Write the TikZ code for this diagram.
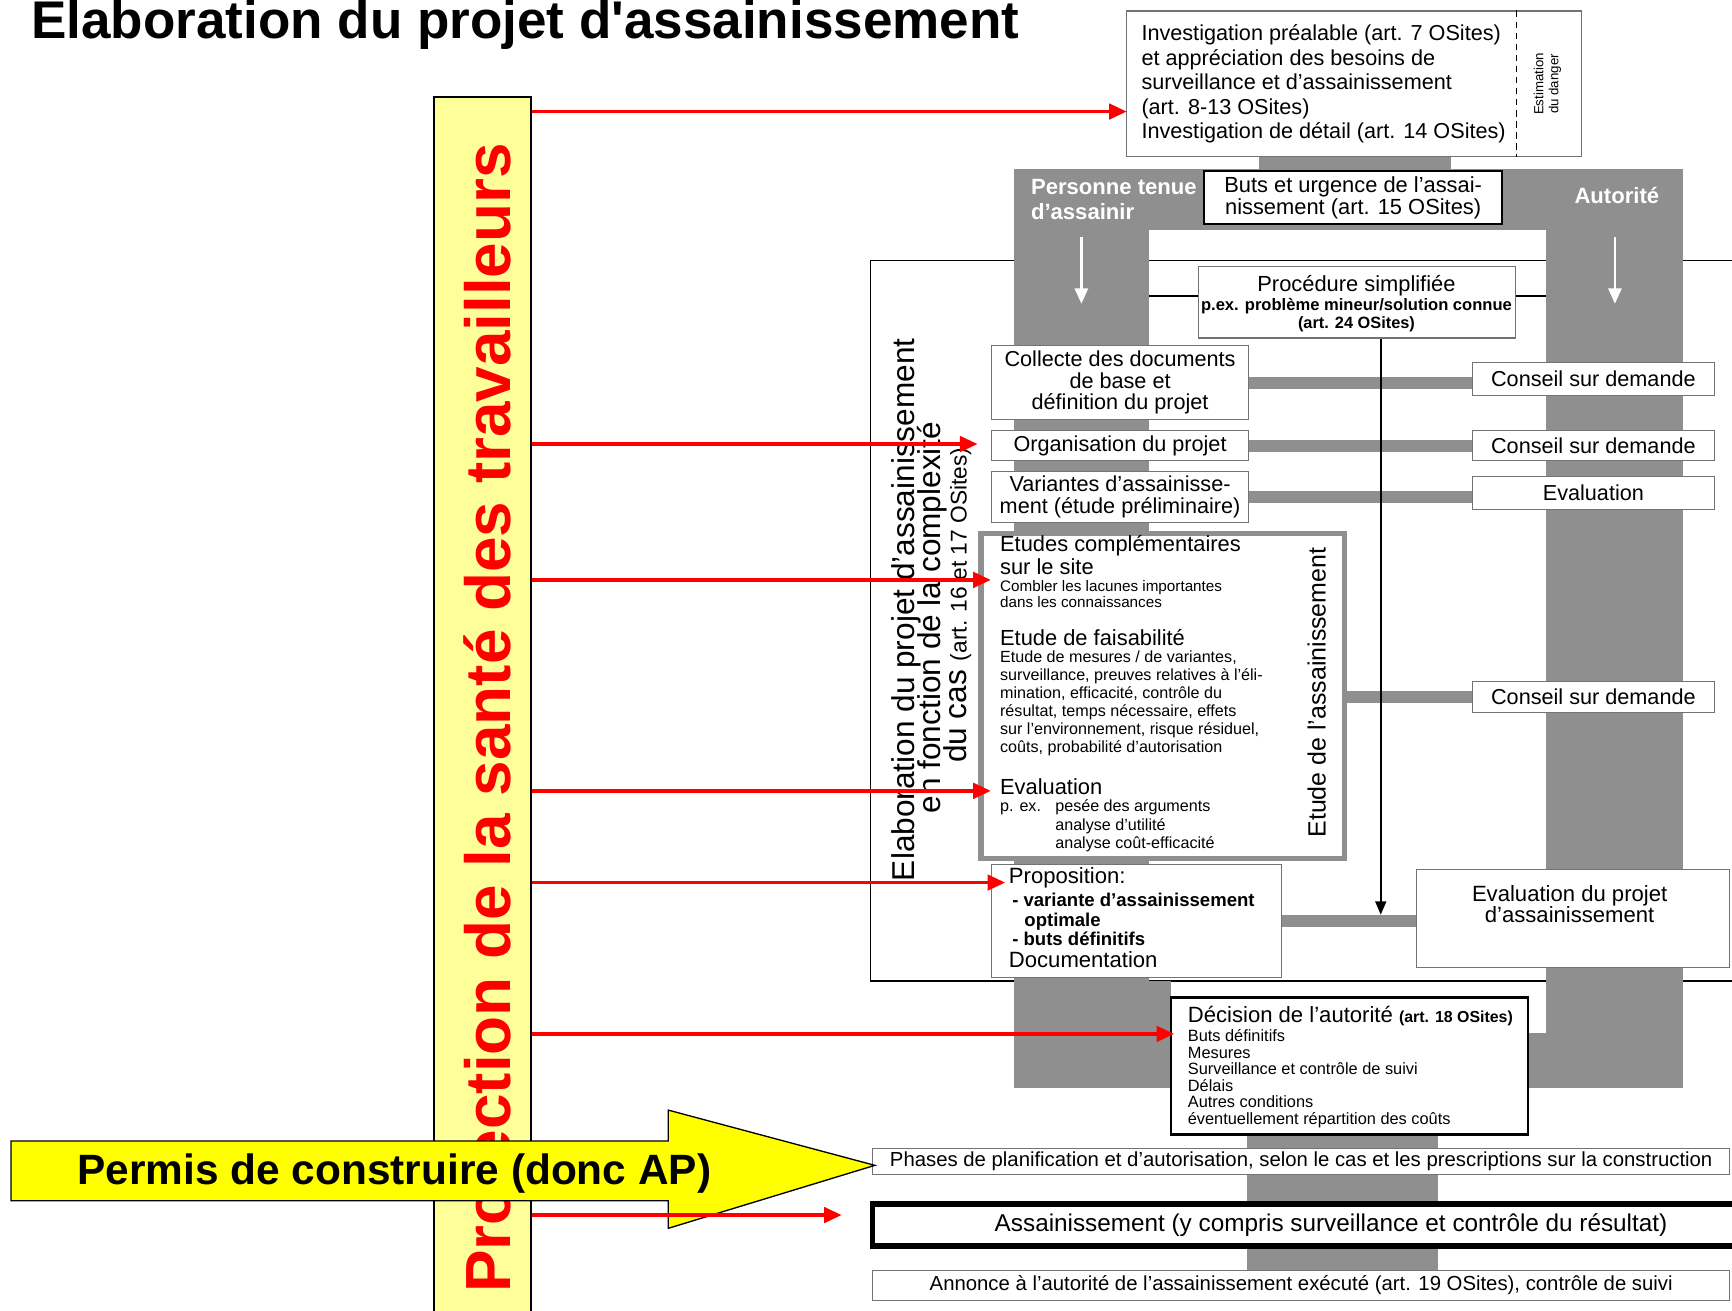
\documentclass[tikz,border=0pt]{standalone}
\usepackage{fontspec}
\setmainfont{Liberation Sans}
\newfontfamily\titlefont[Ligatures=TeXOff]{Liberation Sans}
\usetikzlibrary{fit,arrows.meta}
\pgfdeclarelayer{bg}
\pgfsetlayers{bg,main}
\definecolor{yband}{RGB}{255,255,153}
\definecolor{yarrow}{RGB}{255,255,0}
\definecolor{colgray}{RGB}{143,143,143}
\definecolor{boxline}{RGB}{115,115,115}
\newcommand\lft[1]{\vtop{\halign{##\hfil\cr#1\crcr}}}
\newcommand\ctr[1]{\vtop{\halign{\hfil##\hfil\cr#1\crcr}}}
\tikzset{
  box/.style={draw=boxline, fill=white, line width=0.5pt, inner sep=0pt},
  bbox/.style={draw=black, fill=white, line width=1pt, inner sep=0pt},
  txt/.style={inner sep=0pt},
  f10/.style={inner sep=0pt, font=\fontsize{9.8}{9.8}\selectfont},
  hdr/.style={inner sep=0pt, text=white, font=\bfseries\fontsize{10}{11.5}\selectfont},
  grayconn/.style={draw=colgray, line width=5.5pt},
  whitearr/.style={draw=white, line width=1pt, -{Triangle[length=7pt,width=6pt]}},
  blackarr/.style={draw=black, line width=0.7pt, -{Triangle[length=6pt,width=5pt]}},
  redarr/.style={draw=red, line width=1.6pt, -{Triangle[length=8pt,width=7pt]}},
  rottxt/.style={rotate=90, anchor=base, inner sep=0pt}
}
\begin{document}
\begin{tikzpicture}[x=0.5pt,y=-0.5pt]
\useasboundingbox (0,0) rectangle (1568,1186);
\clip (0,0) rectangle (1568,1186);

% title
\node[anchor=base west, txt, font=\titlefont\bfseries\fontsize{24}{28}\selectfont] (title) at (28,35) {Elaboration du projet d'assainissement};

% top box
\node[box, fit={(1020,10) (1432,142)}] (invest) {};
\coordinate (dashx) at (1373,0);
\draw[line width=0.6pt, dash pattern=on 3pt off 2pt] (invest.north -| dashx) -- (invest.south -| dashx);
\node[anchor=base west, txt, font=\fontsize{9.8}{11.1}\selectfont] (investtxt) at (1033,37) {\lft{Investigation préalable (art. 7 OSites)\cr et appréciation des besoins de\cr surveillance et d'assainissement\cr (art. 8-13 OSites)\cr Investigation de détail (art. 14 OSites)\cr}};
\node[rotate=90, txt, align=center, font=\fontsize{6}{6.8}\selectfont] (estim) at (1401,76) {Estimation\\du danger};

% header box
\node[bbox, fit={(1090,155) (1360,203)}] (buts) {};
\node[txt, align=center, font=\fontsize{9.9}{10}\selectfont] (butstxt) at (buts.center) {Buts et urgence de l'assai-\\nissement (art. 15 OSites)};
\node[anchor=base west, hdr] (pers) at (933,176) {\lft{Personne tenue\cr d'assainir\cr}};
\node[anchor=base west, hdr] (auto) at (1425,184) {Autorité};
\coordinate (wl1) at (979,215); \coordinate (wl2) at (979,275);
\coordinate (wr1) at (1462,215); \coordinate (wr2) at (1462,275);
\draw[whitearr] (wl1) -- (wl2);
\draw[whitearr] (wr1) -- (wr2);

% procedure simplifiee
\node[box, fit={(1085,241) (1372,306)}] (proc) {};
\node[anchor=base, txt, font=\fontsize{9.9}{10}\selectfont] (proct1) at (1228,264) {Procédure simplifiée};
\node[anchor=base, txt, font=\bfseries\fontsize{7.5}{8}\selectfont] (proct2) at (1228,281) {p.ex. problème mineur/solution connue};
\node[anchor=base, txt, font=\bfseries\fontsize{7.4}{8}\selectfont] (proct3) at (1228,297) {(art. 24 OSites)};

% left boxes
\node[box, fit={(898,313) (1130,380)}] (collecte) {};
\node[f10, align=center] (collectetxt) at (collecte.center) {Collecte des documents\\de base et\\définition du projet};
\node[box, fit={(898,390) (1130,417)}] (orga) {};
\node[f10] (orgatxt) at (orga.center) {Organisation du projet};
\node[box, fit={(898,427) (1130,473)}] (variantes) {};
\node[f10, align=center] (variantestxt) at (variantes.center) {Variantes d'assainisse-\\ment (étude préliminaire)};

% right boxes
\node[box, fit={(1333,328) (1552,358)}] (conseilA) {};
\node[f10] (conseilAtxt) at (conseilA.center) {Conseil sur demande};
\node[box, fit={(1333,390) (1552,417)}] (conseilB) {};
\node[f10] (conseilBtxt) at (conseilB.center) {Conseil sur demande};
\node[box, fit={(1333,431) (1552,461)}] (evalA) {};
\node[f10] (evalAtxt) at (evalA.center) {Evaluation};
\node[box, fit={(1333,617) (1552,645)}] (conseilC) {};
\node[f10] (conseilCtxt) at (conseilC.center) {Conseil sur demande};

% etude box
\node[draw=colgray, line width=2.5pt, fill=white, inner sep=0pt, fit={(888,483) (1217,777)}] (etude) {};
\node[anchor=base west, txt] (et1) at (905,499) {\vtop{\fontsize{9.9}{10.5}\selectfont\hbox{Etudes complémentaires}\hbox{sur le site}\fontsize{6.9}{7.6}\selectfont\hbox{Combler les lacunes importantes}\hbox{dans les connaissances}}};
\node[anchor=base west, txt] (et2) at (905,584) {\vtop{\fontsize{9.9}{10}\selectfont\hbox{Etude de faisabilité}\fontsize{7.3}{8}\selectfont\hbox{Etude de mesures / de variantes,}\fontsize{7.3}{8.15}\selectfont\hbox{surveillance, preuves relatives à l'éli-}\hbox{mination, efficacité, contrôle du}\hbox{résultat, temps nécessaire, effets}\hbox{sur l'environnement, risque résiduel,}\hbox{coûts, probabilité d'autorisation}}};
\node[anchor=base west, txt] (et3) at (905,719) {\vtop{\fontsize{9.9}{10}\selectfont\hbox{Evaluation}\fontsize{7.3}{8}\selectfont\hbox{\hbox to 25pt{p. ex.\hfil}pesée des arguments}\fontsize{7.3}{8.3}\selectfont\hbox{\hskip25pt analyse d'utilité}\hbox{\hskip25pt analyse coût-efficacité}}};
\node[rottxt, font=\fontsize{11.3}{12}\selectfont] (etudelbl) at (1200,627) {Etude de l'assainissement};

% proposition
\node[box, fit={(898,783) (1160,885)}] (propo) {};
\node[anchor=base west, txt] (propotxt) at (913,800) {\vtop{\fontsize{10}{10}\selectfont\hbox{Proposition:}\bfseries\fontsize{8.4}{10.5}\selectfont\hbox{\hskip1.5pt- variante d'assainissement}\fontsize{8.4}{9}\selectfont\hbox{\hskip7pt optimale}\fontsize{8.4}{8.5}\selectfont\hbox{\hskip1.5pt- buts définitifs}\mdseries\fontsize{10}{10}\selectfont\hbox{Documentation}}};

% evaluation du projet
\node[box, fit={(1282,787) (1566,876)}] (evalproj) {};
\node[anchor=base, txt, font=\fontsize{10}{9.5}\selectfont] (evalprojtxt) at (1421,816) {\ctr{Evaluation du projet\cr d'assainissement\cr}};

\coordinate (pend) at (1250,828);
\draw[blackarr] (proc.south -| pend) -- (pend);

% decision
\node[bbox, fit={(1060,903) (1383,1027)}] (decision) {};
\node[anchor=base west, txt] (decisiontxt) at (1075,926) {\vtop{\fontsize{10}{10}\selectfont\hbox{Décision de l'autorité {\bfseries\fontsize{7.2}{8}\selectfont(art. 18 OSites)}}\fontsize{7.4}{8.5}\selectfont\hbox{Buts définitifs}\fontsize{7.4}{7.5}\selectfont\hbox{Mesures}\hbox{Surveillance et contrôle de suivi}\hbox{Délais}\hbox{Autres conditions}\hbox{éventuellement répartition des coûts}}};

% bottom boxes
\node[box, fit={(790,1040) (1566,1063)}] (phases) {};
\node[txt, font=\fontsize{9.2}{10}\selectfont] (phasestxt) at (phases.center) {Phases de planification et d'autorisation, selon le cas et les prescriptions sur la construction};
\node[draw=black, line width=2.5pt, fill=white, inner sep=0pt, fit={(790,1090) (1620,1128)}] (assain) {};
\node[txt, font=\fontsize{11}{12}\selectfont] (assaintxt) at (assain.center) {Assainissement (y compris surveillance et contrôle du résultat)};
\node[box, fit={(790,1150) (1566,1177)}] (annonce) {};
\node[txt, font=\fontsize{9.2}{10}\selectfont] (annoncetxt) at (annonce.center) {Annonce à l'autorité de l'assainissement exécuté (art. 19 OSites), contrôle de suivi};

% rotated frame label
\node[rottxt, font=\fontsize{14.3}{15}\selectfont] (el1) at (828,552) {Elaboration du projet d'assainissement};
\node[rottxt, font=\fontsize{14.3}{15}\selectfont] (el2) at (851,559) {en fonction de la complexité};
\node[rottxt, font=\fontsize{14.3}{15}\selectfont] (el3) at (875,548) {du cas {\fontsize{10.3}{11}\selectfont (art. 16 et 17 OSites)}};

% background structure
\begin{pgfonlayer}{bg}
\draw[line width=0.6pt] (1568,236) -- (788,236) -- (788,888) -- (1568,888);
\draw[line width=0.6pt] (1040,268) -- (1400,268);
\fill[colgray] (1140,138) rectangle (1314,160);
\fill[colgray] (918,153) rectangle (1524,208);
\fill[colgray] (918,153) rectangle (1040,985);
\fill[colgray] (1400,153) rectangle (1524,985);
\fill[colgray] (1040,888) rectangle (1060,985);
\fill[colgray] (1040,935) rectangle (1400,985);
\fill[colgray] (1129,1020) rectangle (1302,1155);
\draw[grayconn] (collecte.east) -- (collecte.east -| conseilA.west);
\draw[grayconn] (orga.east) -- (orga.east -| conseilB.west);
\draw[grayconn] (variantes.east) -- (variantes.east -| evalA.west);
\draw[grayconn] (conseilC.west -| etude.east) -- (conseilC.west);
\draw[grayconn] (propo.east) -- (propo.east -| evalproj.west);
\end{pgfonlayer}

% yellow band and red title
\node[draw=black, fill=yband, line width=1pt, inner sep=0pt, fit={(393,88) (481,1200)}] (band) {};
\node[rottxt, text=red, font=\bfseries\fontsize{28.9}{30}\selectfont] (prot) at (462,650) {Protection de la santé des travailleurs};

% yellow block arrow
\draw[fill=yarrow, line width=0.6pt] (10,1033) -- (605,1033) -- (605,1005) -- (792,1055) -- (605,1112) -- (605,1087) -- (10,1087) -- cycle;
\node[anchor=base, txt, font=\bfseries\fontsize{19.2}{20}\selectfont] (permis) at (357,1072) {Permis de construire (donc AP)};

% red arrows
\coordinate (r1) at (1020,101);
\coordinate (r2) at (885,402);
\coordinate (r3) at (897,525);
\coordinate (r4) at (897,716);
\coordinate (r5) at (910,799);
\coordinate (r6) at (1063,936);
\coordinate (r7) at (762,1100);
\foreach \r in {r1,r2,r3,r4,r5,r6,r7} {\draw[redarr] (\r -| band.east) -- (\r);}
\end{tikzpicture}
\end{document}
